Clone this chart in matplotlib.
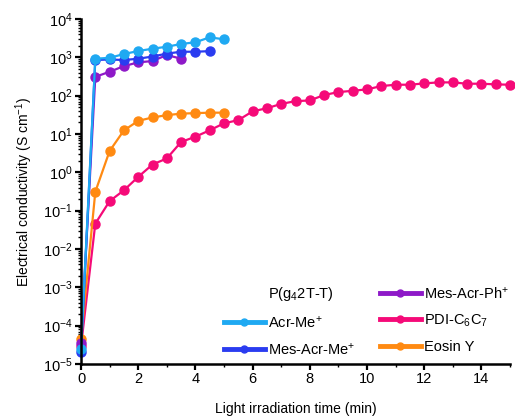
import matplotlib
matplotlib.use("Agg")
import matplotlib.pyplot as plt
from matplotlib.lines import Line2D
from matplotlib.ticker import LogLocator, FixedLocator, LogFormatterMathtext, NullFormatter

plt.rcParams['font.family'] = ['Liberation Sans', 'DejaVu Sans']
plt.rcParams['mathtext.fontset'] = 'custom'
plt.rcParams['mathtext.rm'] = 'Liberation Sans'
plt.rcParams['mathtext.it'] = 'Liberation Sans:italic'
plt.rcParams['mathtext.bf'] = 'Liberation Sans:bold'

# ---- data ----
t_acr = [0, 0.5, 1.0, 1.5, 2.0, 2.5, 3.0, 3.5, 4.0, 4.5, 5.0]
acr_me = [2.5e-5, 920, 970, 1220, 1460, 1680, 1890, 2230, 2470, 3330, 2950]

t_mesme = [0, 0.5, 1.0, 1.5, 2.0, 2.5, 3.0, 3.5, 4.0, 4.5]
mes_acr_me = [2.0e-5, 850, 880, 850, 920, 1050, 1250, 1400, 1400, 1450]

t_mesph = [0, 0.5, 1.0, 1.5, 2.0, 2.5, 3.0, 3.5]
mes_acr_ph = [3.5e-5, 310, 420, 590, 740, 800, 1150, 920]

t_eosin = [0, 0.5, 1.0, 1.5, 2.0, 2.5, 3.0, 3.5, 4.0, 4.5, 5.0]
eosin = [4.5e-5, 0.31, 3.6, 12.4, 22, 27, 31, 34, 35, 36, 36]

t_pdi = [0, 0.5, 1.0, 1.5, 2.0, 2.5, 3.0, 3.5, 4.0, 4.5, 5.0, 5.5, 6.0, 6.5, 7.0,
         7.5, 8.0, 8.5, 9.0, 9.5, 10.0, 10.5, 11.0, 11.5, 12.0, 12.5, 13.0,
         13.5, 14.0, 14.5, 15.0]
pdi = [2.9e-5, 0.046, 0.177, 0.34, 0.76, 1.6, 2.3, 6.2, 8.5, 12.5, 19, 23, 39, 47,
       61, 72, 75, 104, 124, 134, 146, 178, 193, 193, 209, 222, 222, 205, 205,
       197, 193]

labels = ['Acr-Me$^{+}$', 'Mes-Acr-Me$^{+}$', 'Mes-Acr-Ph$^{+}$',
          'PDI-C$_6$C$_7$', 'Eosin Y']
legend_title = 'P(g$_4$2T-T)'
colors = {'acr': '#1FA9F2', 'mesme': '#2A3CF0', 'mesph': '#8E19C8',
          'pdi': '#F50A78', 'eosin': '#FF8A12'}

xticks = [0, 2, 4, 6, 8, 10, 12, 14]

fig = plt.figure(figsize=(5.15, 4.17), dpi=100)
ax = fig.add_axes([81/515, 1-364/417, (510-81)/515, (364-19)/417])

kw = dict(lw=1.6, marker='o', ms=6.5, clip_on=False)
h_pdi, = ax.plot(t_pdi, pdi, color=colors['pdi'], **kw)
h_eos, = ax.plot(t_eosin, eosin, color=colors['eosin'], **kw)
h_mesph, = ax.plot(t_mesph, mes_acr_ph, color=colors['mesph'], **kw)
h_mesme, = ax.plot(t_mesme, mes_acr_me, color=colors['mesme'], **kw)
h_acr, = ax.plot(t_acr, acr_me, color=colors['acr'], **kw)

ax.set_yscale('log')
ax.set_ylim(1e-5, 1e4)
ax.set_xlim(0, 15)
ax.yaxis.set_major_locator(LogLocator(base=10, numticks=20))
ax.yaxis.set_minor_locator(LogLocator(base=10, subs=range(2, 10), numticks=20))
ax.yaxis.set_major_formatter(LogFormatterMathtext())
ax.yaxis.set_minor_formatter(NullFormatter())
ax.xaxis.set_major_locator(FixedLocator(xticks))
ax.xaxis.set_minor_locator(FixedLocator([1, 3, 5, 7, 9, 11, 13, 15]))

for s in ['top', 'right']:
    ax.spines[s].set_visible(False)
for s in ['left', 'bottom']:
    ax.spines[s].set_linewidth(1.8)
ax.tick_params(axis='both', which='major', direction='out', length=4, width=1.6,
               labelsize=10.5, pad=2)
ax.tick_params(axis='both', which='minor', direction='out', length=2.5, width=1.0)

ax.set_xlabel('Light irradiation time (min)', fontsize=10, labelpad=11)
ax.set_ylabel('Electrical conductivity (S cm$^{-1}$)', fontsize=10, labelpad=6)

blank = Line2D([], [], color='none')
def lh(c):
    return Line2D([], [], color=c, lw=3.5, marker='o', ms=5)
handles = [blank, lh(colors['acr']), lh(colors['mesme']),
           lh(colors['mesph']), lh(colors['pdi']), lh(colors['eosin'])]
leg_labels = [legend_title] + labels
ax.legend(handles, leg_labels, ncol=2, frameon=False, fontsize=10.5,
          loc='lower right', bbox_to_anchor=(1.02, -0.01),
          handlelength=2.8, handletextpad=0.2, columnspacing=1.7,
          labelspacing=0.75, borderaxespad=0.3)

fig.savefig('out.png', dpi=100)
